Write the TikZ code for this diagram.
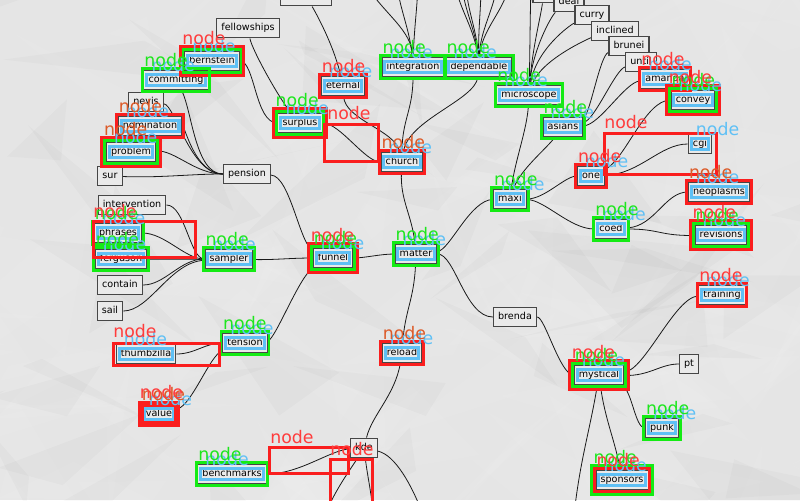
\documentclass[tikz,border=0pt]{standalone}
\usepackage{fontspec}
\setmainfont{DejaVu Sans}
\usetikzlibrary{calc}
\pgfdeclarelayer{paper}
\pgfdeclarelayer{links}
\pgfsetlayers{paper,links,main}

\definecolor{paperc}{RGB}{229,229,229}
\definecolor{nodefill}{RGB}{234,234,234}
\definecolor{nodeline}{RGB}{70,70,70}
\definecolor{linkc}{RGB}{25,25,25}
\definecolor{grn}{RGB}{20,235,20}
\definecolor{redc}{RGB}{250,30,30}
\definecolor{blu}{RGB}{95,192,245}
\definecolor{tgreen}{RGB}{30,230,30}
\definecolor{tred}{RGB}{255,60,60}
\definecolor{torange}{RGB}{220,90,40}

% blue frame over the text band of a node
\newcommand\bframe[1]{\draw[bfr] ($(#1.south west)+(2.6pt,4pt)$) rectangle ($(#1.north east)+(-2.6pt,-4pt)$);}
% green / red frames around a node, #2 = outward offset
\newcommand\gframe[2]{\draw[gfr] ($(#1.south west)+(-#2,-#2)$) rectangle ($(#1.north east)+(#2,#2)$);}
\newcommand\rframe[2]{\draw[rfr] ($(#1.south west)+(-#2,-#2)$) rectangle ($(#1.north east)+(#2,#2)$);}
% "node" tag placed from a node's north west corner
\newcommand\tagat[4]{\node[tagtxt,text=#1] at ($(#2.north west)+(#3,#4)$) {node};}

\begin{document}
\begin{tikzpicture}[x=0.75pt,y=-0.75pt,
  box/.style={draw=nodeline,fill=nodefill,line width=0.9pt,font=\fontsize{7.2}{8}\selectfont,
    inner xsep=3.5pt,inner ysep=3.8pt,text height=5.6pt,text depth=1.6pt},
  link/.style={draw=linkc,line width=0.6pt},
  gfr/.style={draw=grn,line width=2.2pt},
  rfr/.style={draw=redc,line width=2.2pt},
  bfr/.style={draw=blu,line width=2.3pt},
  tagtxt/.style={font=\fontsize{13}{14}\selectfont,inner sep=0pt,anchor=base west}]

\useasboundingbox (0,0) rectangle (800,500);
\clip (0,0) rectangle (800,500);

% crumpled paper: soft facets of light and shade
\begin{pgfonlayer}{paper}
\fill[paperc] (0,0) rectangle (800,500);
\pgfmathsetseed{23}
\foreach \k in {1,...,130}{
  \pgfmathsetmacro\px{rnd*880-40}
  \pgfmathsetmacro\py{rnd*560-30}
  \fill[white,opacity=0.07] (\px,\py) -- ++(rand*170,rand*110) -- ++(rand*170,rand*110) -- cycle;
}
\foreach \k in {1,...,60}{
  \pgfmathsetmacro\px{rnd*880-40}
  \pgfmathsetmacro\py{rnd*560-30}
  \fill[black,opacity=0.018] (\px,\py) -- ++(rand*150,rand*100) -- ++(rand*150,rand*100) -- cycle;
}
\end{pgfonlayer}

% ---------- nodes ----------
\node[box] (antitrust) at (306,-4) {antitrust};
\node[box,minimum width=16.5pt] (hidtop) at (544,-7) {};
\node[box] (deal) at (569,2) {deal};
\node[box] (curry) at (592,15) {curry};
\node[box] (inclined) at (615,31) {inclined};
\node[box] (brunei) at (629,46) {brunei};
\node[box] (until) at (641,62) {until};
\node[box] (amanner) at (665,79) {amanda};
\node[box] (convey) at (693,100) {convey};
\node[box] (fellowships) at (248,28) {fellowships};
\node[box] (bernstein) at (212,61) {bernstein};
\node[box] (integration) at (413,67) {integration};
\node[box] (dependable) at (479,67) {dependable};
\node[box] (committing) at (176,80) {committing};
\node[box] (eternal) at (343,86) {eternal};
\node[box] (microscope) at (529,95) {microscope};
\node[box] (nevis) at (146,102) {nevis};
\node[box] (surplus) at (300,123) {surplus};
\node[box] (nomination) at (150,126) {nomination};
\node[box] (asians) at (563,127) {asians};
\node[box] (cgi) at (700,144) {cgi};
\node[box] (problem) at (131,152) {problem};
\node[box] (church) at (402,162) {church};
\node[box] (pension) at (247,174) {pension};
\node[box] (sur) at (110,176) {sur};
\node[box] (one) at (591,176) {one};
\node[box] (neoplasms) at (719,192) {neoplasms};
\node[box] (maxi) at (510,199) {maxi};
\node[box] (intervention) at (132,205) {intervention};
\node[box] (coed) at (611,229) {coed};
\node[box] (phrases) at (118,233) {phrases};
\node[box] (revisions) at (721,235) {revisions};
\node[box] (matter) at (416,254) {matter};
\node[box] (funnel) at (333,258) {funnel};
\node[box] (sampler) at (229,259) {sampler};
\node[box] (ferguson) at (121,259) {ferguson};
\node[box] (contain) at (120,285) {contain};
\node[box] (training) at (722,295) {training};
\node[box] (sail) at (110,311) {sail};
\node[box] (brenda) at (515,317) {brenda};
\node[box] (tension) at (245,343) {tension};
\node[box] (reload) at (402,353) {reload};
\node[box] (thumbzilla) at (146,354) {thumbzilla};
\node[box] (pt) at (689,364) {pt};
\node[box] (mystical) at (599,375) {mystical};
\node[box] (value) at (159,414) {value};
\node[box] (punk) at (662,428) {punk};
\node[box] (kde) at (364,448) {kde};
\node[box] (benchmarks) at (232,474) {benchmarks};
\node[box] (sponsors) at (622,480) {sponsors};

% free ends of links leaving the sheet
\coordinate (iA) at (366,-15);
\coordinate (iB) at (397,-15);
\coordinate (iC) at (418,-15);
\coordinate (dA) at (455,-15);
\coordinate (dB) at (462,-15);
\coordinate (dC) at (466,-15);
\coordinate (dD) at (481,-15);
\coordinate (dE) at (497,-15);
\coordinate (dF) at (509,-15);
\coordinate (mA) at (531,-15);
\coordinate (kA) at (325,515);
\coordinate (kB) at (373,515);
\coordinate (kC) at (423,515);
\coordinate (mD) at (574,515);

% ---------- links ----------
\begin{pgfonlayer}{links}
\draw[link] (funnel) .. controls (365,258) and (380,254) .. (matter);
\draw[link] (matter) .. controls (412,215) and (400,200) .. (church);
\draw[link] (matter) .. controls (414,300) and (405,310) .. (reload);
\draw[link] (matter) .. controls (450,250) and (470,200) .. (maxi);
\draw[link] (matter) .. controls (455,254) and (465,317) .. (brenda);
\draw[link] (pension) .. controls (290,176) and (300,245) .. (funnel);
\draw[link] (sampler) .. controls (275,260) and (290,258) .. (funnel);
\draw[link] (tension) .. controls (275,340) and (300,275) .. (funnel);
\draw[link] (committing) .. controls (192,110) and (195,174) .. (pension);
\draw[link] (nevis) .. controls (175,105) and (190,174) .. (pension);
\draw[link] (nomination) .. controls (185,126) and (195,174) .. (pension);
\draw[link] (problem) .. controls (175,150) and (195,174) .. (pension);
\draw[link] (sur) .. controls (160,178) and (190,174) .. (pension);
\draw[link] (bernstein) .. controls (255,61) and (255,123) .. (surplus);
\draw[link] (fellowships) .. controls (252,50) and (280,100) .. (surplus);
\draw[link] (surplus) .. controls (340,123) and (365,162) .. (church);
\draw[link] (eternal) .. controls (345,120) and (395,130) .. (church);
\draw[link] (antitrust) .. controls (320,20) and (335,50) .. (eternal);
\draw[link] (church) .. controls (402,120) and (413,110) .. (integration);
\draw[link] (church) .. controls (408,120) and (475,100) .. (dependable);
\draw[link] (integration) .. controls (412,30) and (385,15) .. (iA);
\draw[link] (integration) .. controls (410,30) and (400,10) .. (iB);
\draw[link] (integration) .. controls (414,30) and (417,10) .. (iC);
\draw[link] (dependable) .. controls (475,30) and (460,10) .. (dA);
\draw[link] (dependable) .. controls (476,30) and (464,10) .. (dB);
\draw[link] (dependable) .. controls (477,30) and (467,10) .. (dC);
\draw[link] (dependable) .. controls (478,30) and (481,10) .. (dD);
\draw[link] (dependable) .. controls (480,30) and (494,10) .. (dE);
\draw[link] (dependable) .. controls (481,30) and (505,10) .. (dF);
\draw[link] (maxi) .. controls (515,160) and (527,130) .. (microscope);
\draw[link] (maxi) .. controls (520,170) and (545,150) .. (asians);
\draw[link] (microscope) .. controls (530,50) and (530,20) .. (mA);
\draw[link] (microscope) .. controls (532,50) and (540,20) .. (hidtop);
\draw[link] (microscope) .. controls (532,50) and (552,15) .. (deal);
\draw[link] (microscope) .. controls (535,50) and (570,25) .. (curry);
\draw[link] (microscope) .. controls (540,60) and (590,38) .. (inclined);
\draw[link] (asians) .. controls (590,115) and (600,55) .. (brunei);
\draw[link] (asians) .. controls (595,120) and (615,70) .. (until);
\draw[link] (asians) .. controls (600,125) and (625,82) .. (amanner);
\draw[link] (maxi) .. controls (545,199) and (565,176) .. (one);
\draw[link] (maxi) .. controls (545,200) and (570,229) .. (coed);
\draw[link] (one) .. controls (625,160) and (645,100) .. (convey);
\draw[link] (one) .. controls (640,174) and (660,144) .. (cgi);
\draw[link] (coed) .. controls (655,226) and (665,192) .. (neoplasms);
\draw[link] (coed) .. controls (660,229) and (660,236) .. (revisions);
\draw[link] (brenda) .. controls (545,317) and (560,375) .. (mystical);
\draw[link] (mystical) .. controls (645,370) and (675,297) .. (training);
\draw[link] (mystical) .. controls (650,376) and (660,364) .. (pt);
\draw[link] (mystical) .. controls (632,390) and (635,428) .. (punk);
\draw[link] (mystical) .. controls (605,420) and (615,440) .. (sponsors);
\draw[link] (mystical) .. controls (590,430) and (580,460) .. (mD);
\draw[link] (intervention) .. controls (185,205) and (190,259) .. (sampler);
\draw[link] (phrases) .. controls (165,233) and (185,259) .. (sampler);
\draw[link] (ferguson) .. controls (170,259) and (185,259) .. (sampler);
\draw[link] (contain) .. controls (165,285) and (180,259) .. (sampler);
\draw[link] (sail) .. controls (150,311) and (170,262) .. (sampler);
\draw[link] (thumbzilla) .. controls (195,354) and (205,343) .. (tension);
\draw[link] (value) .. controls (192,405) and (210,355) .. (tension);
\draw[link] (reload) .. controls (395,395) and (372,415) .. (kde);
\draw[link] (benchmarks) .. controls (300,474) and (330,450) .. (kde);
\draw[link] (kde) .. controls (350,470) and (335,490) .. (kA);
\draw[link] (kde) .. controls (368,480) and (372,495) .. (kB);
\draw[link] (kde) .. controls (395,455) and (412,485) .. (kC);
\end{pgfonlayer}

% ---------- blue text frames ----------
\foreach \n in {bernstein,committing,nomination,problem,surplus,eternal,integration,
  dependable,church,microscope,asians,amanner,convey,cgi,one,maxi,neoplasms,coed,
  revisions,training,mystical,punk,sponsors,matter,funnel,reload,sampler,phrases,
  ferguson,tension,thumbzilla,value,benchmarks}{\bframe{\n}}

% ---------- green / red frames ----------
\rframe{bernstein}{3pt}\gframe{bernstein}{0.8pt}
\gframe{committing}{0.8pt}
\rframe{nomination}{0.8pt}
\rframe{problem}{3pt}\gframe{problem}{0.8pt}
\rframe{surplus}{3pt}\gframe{surplus}{0.8pt}
\rframe{eternal}{0.8pt}
\gframe{integration}{0.8pt}
\gframe{dependable}{0.8pt}
\rframe{church}{0.8pt}
\gframe{microscope}{0.8pt}
\gframe{asians}{0.8pt}
\rframe{amanner}{0.8pt}
\rframe{convey}{3pt}\gframe{convey}{0.8pt}
\rframe{one}{0.8pt}
\gframe{maxi}{0.8pt}
\rframe{neoplasms}{0.8pt}
\gframe{coed}{0.8pt}
\rframe{revisions}{3pt}\gframe{revisions}{0.8pt}
\rframe{training}{0.8pt}
\rframe{mystical}{3pt}\gframe{mystical}{0.8pt}
\gframe{punk}{0.8pt}
\gframe{sponsors}{3pt}\rframe{sponsors}{0.8pt}
\gframe{matter}{0.8pt}
\rframe{funnel}{3pt}\gframe{funnel}{0.8pt}
\rframe{reload}{0.8pt}
\gframe{sampler}{0.8pt}
\gframe{phrases}{0.8pt}
\gframe{ferguson}{0.8pt}
\gframe{tension}{0.8pt}
\rframe{value}{0.8pt}
\draw[rfr] ($(value.south west)+(1.3pt,1.3pt)$) rectangle ($(value.north east)+(-1.3pt,-1.3pt)$);
\gframe{benchmarks}{0.8pt}

% free-standing red regions
\draw[rfr] (324.5,124.5) rectangle (378.5,161.5);
\draw[rfr] (604.5,133.5) rectangle (716.5,174.5);
\draw[rfr] (93.5,221.5) rectangle (195.5,257.5);
\draw[rfr] (113.5,343.5) rectangle (219.5,365.5);
\draw[rfr] (269.5,447.5) rectangle (348.5,473.5);
\draw[rfr] (330.5,459.5) rectangle (372.5,515);

% ---------- tags ----------
\foreach \n in {bernstein,committing,nomination,problem,surplus,eternal,integration,
  dependable,church,microscope,asians,amanner,convey,cgi,one,maxi,neoplasms,coed,
  revisions,training,mystical,punk,sponsors,matter,funnel,reload,sampler,phrases,
  ferguson,tension,thumbzilla,value,benchmarks}{\tagat{blu}{\n}{6pt}{-1.6pt}}

\foreach \n in {committing,integration,dependable,microscope,asians,convey,maxi,coed,
  revisions,mystical,punk,matter,funnel,sampler,phrases,ferguson,tension,benchmarks}
  {\tagat{tgreen}{\n}{0.7pt}{2.3pt}}
\tagat{tgreen}{surplus}{-1.5pt}{4.5pt}
\tagat{tgreen}{sponsors}{-1.5pt}{4.5pt}

\foreach \n in {eternal,amanner,one,training,sponsors}{\tagat{tred}{\n}{0.7pt}{2.3pt}}
\foreach \n in {bernstein,convey,revisions,mystical,funnel}{\tagat{tred}{\n}{-1.5pt}{4.5pt}}
\foreach \n in {nomination,church,neoplasms,reload,value}{\tagat{torange}{\n}{0.7pt}{2.3pt}}
\tagat{torange}{problem}{-1.5pt}{4.5pt}
\tagat{tred}{value}{-0.8pt}{3.6pt}

\node[tagtxt,text=tred] at (327,119) {node};
\node[tagtxt,text=tred] at (604,128) {node};
\node[tagtxt,text=tred] at (93,217) {node};
\node[tagtxt,text=tred] at (113,337) {node};
\node[tagtxt,text=tred] at (270,443) {node};
\node[tagtxt,text=tred] at (330,455) {node};
\end{tikzpicture}
\end{document}
